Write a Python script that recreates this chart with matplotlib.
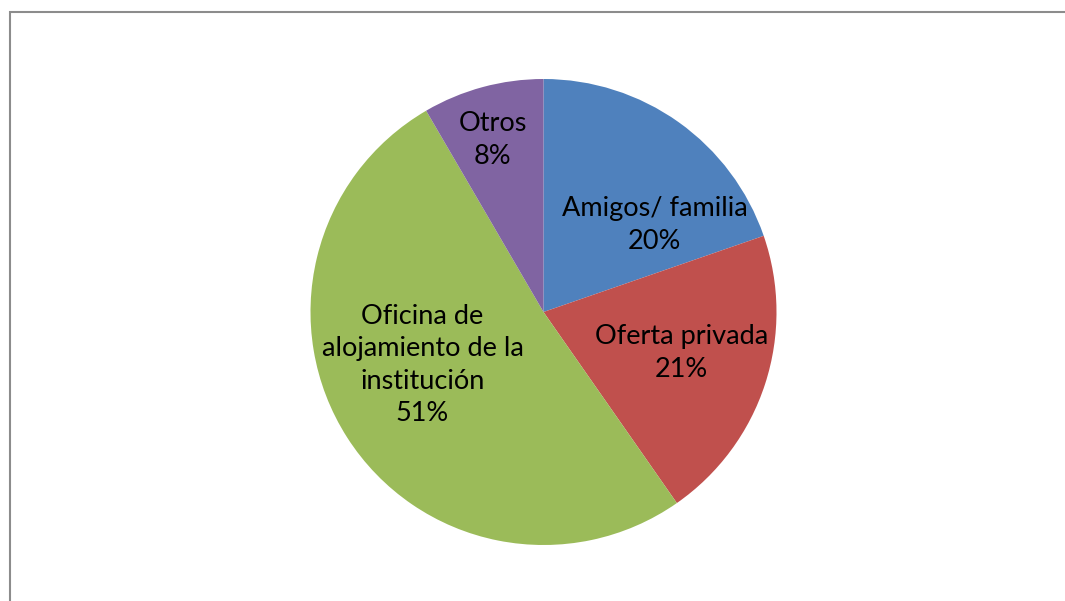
import matplotlib.pyplot as plt
from matplotlib.patches import Rectangle

labels = ["Amigos/ familia", "Oferta privada", "Oficina de\nalojamiento de la\ninstitución", "Otros"]
values = [19.7, 20.6, 51.3, 8.4]
shown = ["20%", "21%", "51%", "8%"]
colors = ["#4F81BD", "#C0504D", "#9BBB59", "#8064A2"]

W, H = 1065, 601
fig = plt.figure(figsize=(W / 100, H / 100), dpi=100)
ax = fig.add_axes([0, 0, 1, 1])

cx, cy, r = 543.5, H - 312, 233
ax.pie(values, colors=colors, startangle=90, counterclock=False,
       center=(cx, cy), radius=r, frame=True,
       wedgeprops={"linewidth": 0})
ax.set_xlim(0, W)
ax.set_ylim(0, H)
ax.axis("off")

# label positions (offsets from centre, pixels)
offsets = [(111, 87), (138, -41), (-121, -53), (-51, 172)]
for lab, pct, (dx, dy) in zip(labels, shown, offsets):
    ax.text(cx + dx, cy + dy, f"{lab}\n{pct}", ha="center", va="center",
            fontsize=19.5, family="Lato", color="black", linespacing=1.37)

ax.add_patch(Rectangle((9.5, -20), W + 20, H - 11.5 + 20, fill=False,
                       edgecolor="#8c8c8c", linewidth=1.5, clip_on=False))

fig.savefig("out.png", dpi=100)
